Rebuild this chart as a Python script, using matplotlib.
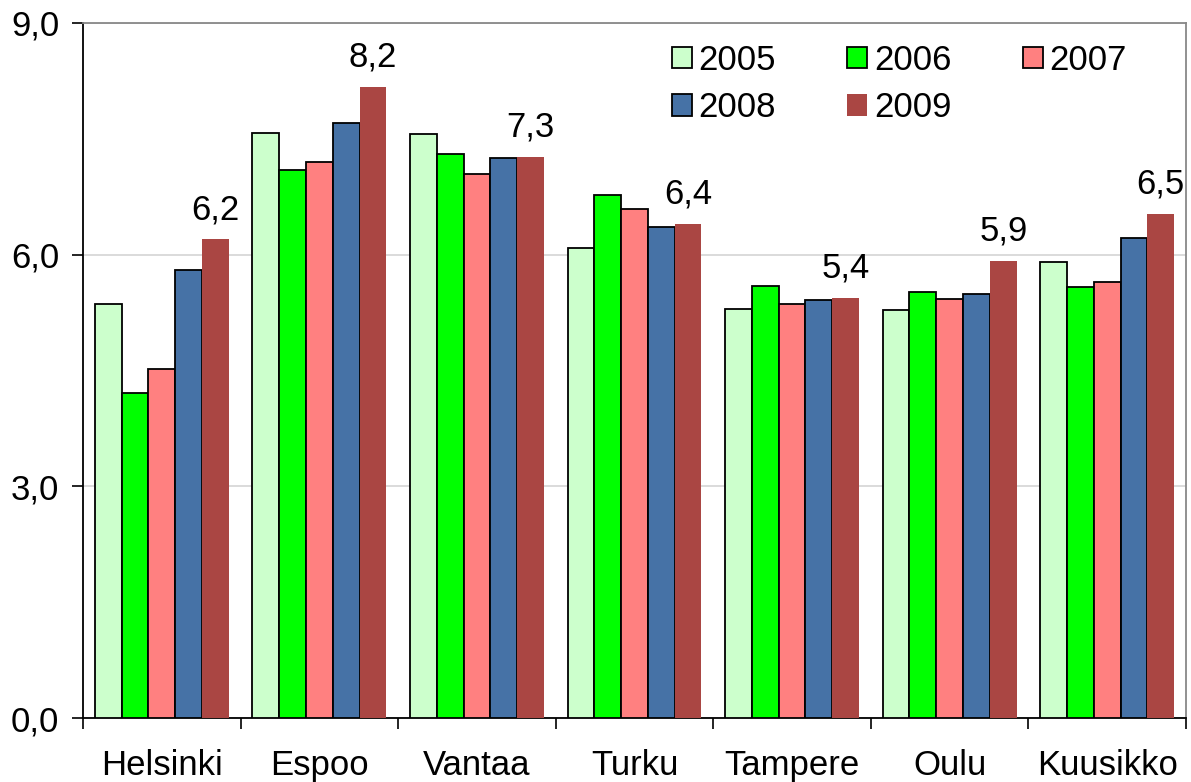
import numpy as np
import matplotlib.pyplot as plt
from matplotlib.patches import Patch

plt.rcParams['font.family'] = ['Liberation Sans', 'DejaVu Sans']

# cities and yearly values
cities = ['Helsinki', 'Espoo', 'Vantaa', 'Turku', 'Tampere', 'Oulu', 'Kuusikko']
years = ['2005', '2006', '2007', '2008', '2009']
v2005 = [5.36, 7.57, 7.56, 6.08, 5.30, 5.29, 5.90]
v2006 = [4.21, 7.09, 7.31, 6.77, 5.60, 5.52, 5.58]
v2007 = [4.52, 7.20, 7.04, 6.59, 5.36, 5.42, 5.64]
v2008 = [5.80, 7.71, 7.25, 6.36, 5.41, 5.49, 6.22]
v2009 = [6.20, 8.17, 7.27, 6.40, 5.44, 5.92, 6.53]
labels_2009 = ['6,2', '8,2', '7,3', '6,4', '5,4', '5,9', '6,5']

series = [v2005, v2006, v2007, v2008, v2009]
colors = ['#CCFFCC', '#00FF00', '#FF8080', '#4672A6', '#AA4643']
edges = ['black', 'black', 'black', 'black', 'none']

fs = 25

fig = plt.figure(figsize=(11.91, 7.82), dpi=100)
ax = fig.add_axes([0.0697, 0.0818, 0.9261, 0.8888])

x = np.arange(len(cities))
w = 0.17
for j, vals in enumerate(series):
    ax.bar(x + (j - 2) * w, vals, w, color=colors[j], edgecolor=edges[j],
           linewidth=1.3, zorder=3)

# value labels on the 2009 bars
for i, txt in enumerate(labels_2009):
    ax.annotate(txt, (x[i] + 2 * w, v2009[i]), xytext=(0, 14.5),
                textcoords='offset points', ha='center', va='baseline', fontsize=fs)

ax.set_xlim(-0.5, len(cities) - 0.5)
ax.set_ylim(0, 9)
ax.set_yticks([0, 3, 6, 9])
ax.set_yticklabels(['0,0', '3,0', '6,0', '9,0'], fontsize=fs)
ax.yaxis.grid(True, color='#d4d4d4', linewidth=1.2, zorder=0)
ax.tick_params(axis='y', length=8, width=1.2, direction='out', pad=9)

# category boundary ticks, names in between
ax.set_xticks(np.arange(len(cities) + 1) - 0.5)
ax.set_xticklabels([])
ax.set_xticks(x, minor=True)
ax.set_xticklabels(cities, minor=True, fontsize=fs)
ax.tick_params(axis='x', which='major', length=8, width=1.2, direction='out')
ax.tick_params(axis='x', which='minor', length=0, pad=22)

ax.spines['left'].set_color('black')
ax.spines['bottom'].set_color('black')
ax.spines['top'].set_color('#888888')
ax.spines['right'].set_color('#888888')
for s in ax.spines.values():
    s.set_linewidth(1.3)

# legend laid out row-wise: 2005 2006 2007 / 2008 2009
order = [0, 3, 1, 4, 2]
handles = [Patch(facecolor=colors[j], edgecolor=edges[j], linewidth=1.3) for j in order]
ax.legend(handles, [years[j] for j in order], ncol=3, frameon=False, fontsize=fs,
          loc='upper left', bbox_to_anchor=(0.534, 0.97),
          handlelength=0.57, handleheight=0.57, handletextpad=0.2,
          columnspacing=2.05, labelspacing=0.42, borderaxespad=0, borderpad=0)

fig.savefig('out.png', dpi=100)
